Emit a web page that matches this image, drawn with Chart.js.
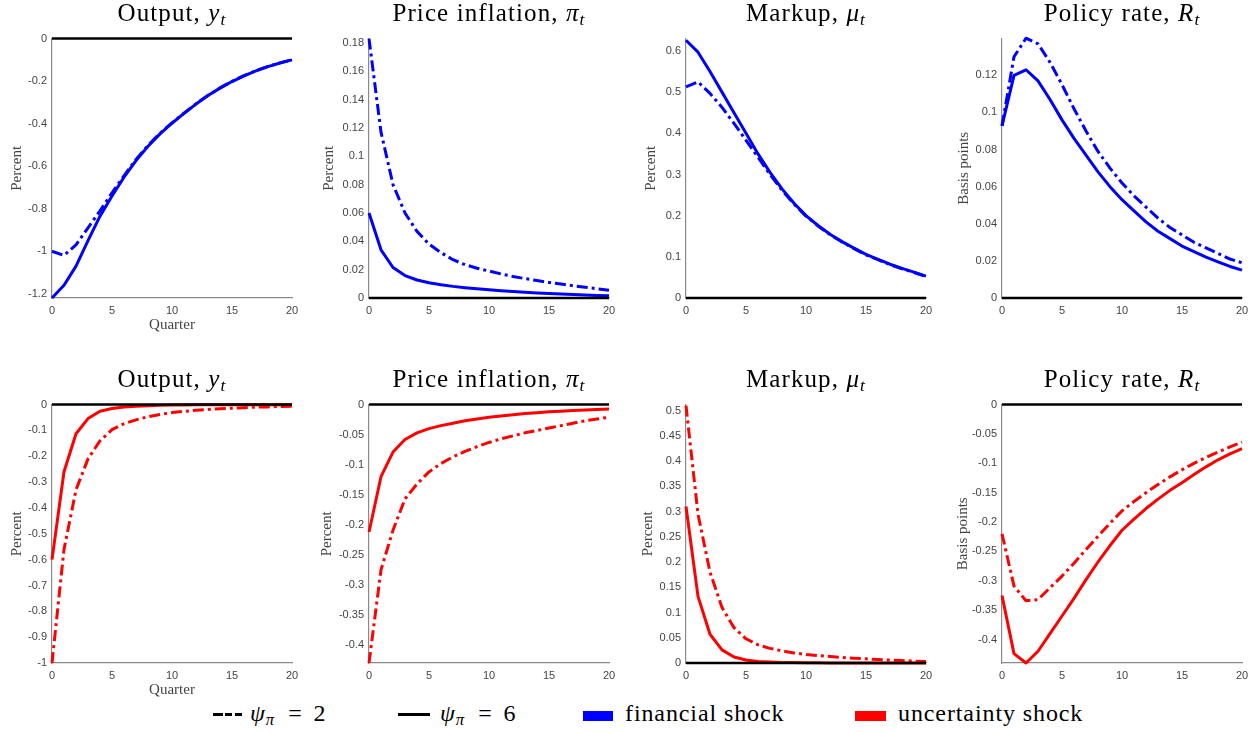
<!DOCTYPE html>
<html>
<head>
<meta charset="utf-8">
<script src="https://cdn.jsdelivr.net/npm/chart.js@4.4.0/dist/chart.umd.min.js"></script>
<style>
  html, body { margin: 0; padding: 0; background: #fff; }
  #fig { position: relative; width: 1257px; height: 733px; overflow: hidden; }
  #fig canvas { position: absolute; }
  .ttl {
    position: absolute; width: 300px; text-align: center; white-space: nowrap;
    font-family: "Liberation Serif", serif; font-size: 25px; line-height: 24px;
    letter-spacing: 1.1px; color: #000;
  }
  .ttl sub, .leg sub { font-size: 0.7em; vertical-align: -0.25em; line-height: 0; }
  .leg {
    position: absolute; top: 701px; white-space: nowrap;
    font-family: "Liberation Serif", serif; font-size: 24px; line-height: 24px;
    letter-spacing: 0.9px; color: #000;
  }
  .eq { padding: 0 11px 0 13px; }
  .sample { position: absolute; }
</style>
</head>
<body>
<div id="fig"></div>
<script>
// horizon (quarters)
const quarters = [0, 1, 2, 3, 4, 5, 6, 7, 8, 9, 10, 11, 12, 13, 14, 15, 16, 17, 18, 19, 20];
const zeroLine = [0, 0, 0, 0, 0, 0, 0, 0, 0, 0, 0, 0, 0, 0, 0, 0, 0, 0, 0, 0, 0];

// financial shock (top row): dash-dot = psi_pi 2, solid = psi_pi 6
const outputFinDash = [-1.00, -1.02, -0.97, -0.89, -0.81, -0.725, -0.645, -0.568, -0.502, -0.445, -0.396, -0.351, -0.307, -0.267, -0.232, -0.201, -0.174, -0.151, -0.131, -0.114, -0.099];
const outputFinSolid = [-1.22, -1.16, -1.07, -0.95, -0.835, -0.74, -0.652, -0.574, -0.506, -0.448, -0.398, -0.352, -0.308, -0.268, -0.233, -0.202, -0.175, -0.152, -0.132, -0.115, -0.100];
const inflFinDash = [0.183, 0.117, 0.080, 0.060, 0.047, 0.038, 0.032, 0.027, 0.0235, 0.021, 0.019, 0.017, 0.0152, 0.0137, 0.0123, 0.011, 0.0098, 0.0087, 0.0076, 0.0065, 0.0055];
const inflFinSolid = [0.060, 0.034, 0.0215, 0.0158, 0.0127, 0.0107, 0.0093, 0.0082, 0.0073, 0.0065, 0.0058, 0.0052, 0.0046, 0.0041, 0.0036, 0.0032, 0.0028, 0.0024, 0.0021, 0.0018, 0.0015];
const markupFinDash = [0.513, 0.525, 0.497, 0.463, 0.424, 0.383, 0.342, 0.300, 0.262, 0.228, 0.199, 0.175, 0.154, 0.136, 0.120, 0.105, 0.093, 0.081, 0.071, 0.062, 0.052];
const markupFinSolid = [0.626, 0.597, 0.550, 0.500, 0.450, 0.400, 0.350, 0.305, 0.265, 0.230, 0.200, 0.176, 0.155, 0.137, 0.121, 0.106, 0.094, 0.082, 0.072, 0.063, 0.053];
const rateFinDash = [0.0928, 0.130, 0.140, 0.137, 0.127, 0.115, 0.102, 0.090, 0.079, 0.070, 0.062, 0.055, 0.049, 0.043, 0.038, 0.034, 0.030, 0.027, 0.024, 0.021, 0.019];
const rateFinSolid = [0.0928, 0.120, 0.123, 0.117, 0.107, 0.096, 0.086, 0.077, 0.068, 0.060, 0.053, 0.047, 0.041, 0.036, 0.032, 0.028, 0.025, 0.022, 0.0195, 0.017, 0.015];

// uncertainty shock (bottom row)
const outputUncDash = [-1.00, -0.56, -0.33, -0.21, -0.14, -0.097, -0.074, -0.059, -0.047, -0.038, -0.031, -0.026, -0.022, -0.019, -0.016, -0.014, -0.012, -0.010, -0.009, -0.007, -0.006];
const outputUncSolid = [-0.60, -0.26, -0.113, -0.054, -0.026, -0.015, -0.009, -0.006, -0.004, -0.003, -0.002, -0.0015, -0.001, -0.001, -0.0008, -0.0006, -0.0005, -0.0004, -0.0003, -0.0002, -0.0002];
const inflUncDash = [-0.43, -0.275, -0.209, -0.157, -0.132, -0.112, -0.098, -0.087, -0.078, -0.070, -0.063, -0.057, -0.052, -0.047, -0.043, -0.039, -0.035, -0.031, -0.027, -0.024, -0.021];
const inflUncSolid = [-0.212, -0.120, -0.079, -0.058, -0.047, -0.040, -0.035, -0.031, -0.027, -0.024, -0.021, -0.019, -0.017, -0.015, -0.0135, -0.012, -0.011, -0.0098, -0.0088, -0.008, -0.0072];
const markupUncDash = [0.51, 0.295, 0.18, 0.11, 0.07, 0.048, 0.036, 0.029, 0.024, 0.020, 0.017, 0.0148, 0.0128, 0.011, 0.0095, 0.0082, 0.0070, 0.0058, 0.0048, 0.0038, 0.003];
const markupUncSolid = [0.31, 0.132, 0.057, 0.026, 0.012, 0.006, 0.003, 0.002, 0.0012, 0.0008, 0.0005, 0.0003, 0.0002, 0.0002, 0.0001, 0.0001, 0.0001, 0, 0, 0, 0];
const rateUncDash = [-0.22, -0.309, -0.334, -0.332, -0.312, -0.292, -0.270, -0.247, -0.224, -0.202, -0.181, -0.165, -0.150, -0.136, -0.123, -0.111, -0.100, -0.090, -0.081, -0.072, -0.064];
const rateUncSolid = [-0.325, -0.424, -0.44, -0.42, -0.39, -0.36, -0.33, -0.298, -0.268, -0.240, -0.214, -0.195, -0.177, -0.161, -0.146, -0.133, -0.119, -0.106, -0.094, -0.084, -0.075];

// tick labels
const xTicks = [0, 5, 10, 15, 20];
const ticksOutputFin = [-1.2, -1, -0.8, -0.6, -0.4, -0.2, 0];
const ticksInflFin = [0, 0.02, 0.04, 0.06, 0.08, 0.1, 0.12, 0.14, 0.16, 0.18];
const ticksMarkupFin = [0, 0.1, 0.2, 0.3, 0.4, 0.5, 0.6];
const ticksRateFin = [0, 0.02, 0.04, 0.06, 0.08, 0.1, 0.12];
const ticksOutputUnc = [-1, -0.9, -0.8, -0.7, -0.6, -0.5, -0.4, -0.3, -0.2, -0.1, 0];
const ticksInflUnc = [-0.4, -0.35, -0.3, -0.25, -0.2, -0.15, -0.1, -0.05, 0];
const ticksMarkupUnc = [0, 0.05, 0.1, 0.15, 0.2, 0.25, 0.3, 0.35, 0.4, 0.45, 0.5];
const ticksRateUnc = [-0.4, -0.35, -0.3, -0.25, -0.2, -0.15, -0.1, -0.05, 0];

const BLUE = "#0000ff";
const RED = "#ff0000";

const panels = [
  { title: "Output, <i>y</i><sub><i>t</i></sub>", dash: outputFinDash, solid: outputFinSolid, color: BLUE, ticks: ticksOutputFin, min: -1.22, max: 0, ylab: "Percent", xlab: "Quarter", left: 52, top: 35, h: 263, ypad: 8 },
  { title: "Price inflation, <i>π</i><sub><i>t</i></sub>", dash: inflFinDash, solid: inflFinSolid, color: BLUE, ticks: ticksInflFin, min: 0, max: 0.183, ylab: "Percent", left: 369, top: 35, h: 263, ypad: 3 },
  { title: "Markup, <i>μ</i><sub><i>t</i></sub>", dash: markupFinDash, solid: markupFinSolid, color: BLUE, ticks: ticksMarkupFin, min: 0, max: 0.63, ylab: "Percent", left: 686, top: 35, h: 263, ypad: 8 },
  { title: "Policy rate, <i>R</i><sub><i>t</i></sub>", dash: rateFinDash, solid: rateFinSolid, color: BLUE, ticks: ticksRateFin, min: 0, max: 0.1398, ylab: "Basis points", left: 1002, top: 35, h: 263, ypad: 5 },
  { title: "Output, <i>y</i><sub><i>t</i></sub>", dash: outputUncDash, solid: outputUncSolid, color: RED, ticks: ticksOutputUnc, min: -1, max: 0, ylab: "Percent", xlab: "Quarter", left: 52, top: 401, h: 262, ypad: 8 },
  { title: "Price inflation, <i>π</i><sub><i>t</i></sub>", dash: inflUncDash, solid: inflUncSolid, color: RED, ticks: ticksInflUnc, min: -0.43, max: 0, ylab: "Percent", left: 369, top: 401, h: 262, ypad: 1 },
  { title: "Markup, <i>μ</i><sub><i>t</i></sub>", dash: markupUncDash, solid: markupUncSolid, color: RED, ticks: ticksMarkupUnc, min: 0, max: 0.512, ylab: "Percent", left: 686, top: 401, h: 262, ypad: 5 },
  { title: "Policy rate, <i>R</i><sub><i>t</i></sub>", dash: rateUncDash, solid: rateUncSolid, color: RED, ticks: ticksRateUnc, min: -0.44, max: 0, ylab: "Basis points", left: 1002, top: 401, h: 262, ypad: 4 }
];

const fig = document.getElementById("fig");
const AXW = 52, AXH = 34, PADT = 8, PADR = 14, PLOTW = 240;

function pts(vals) {
  return quarters.map((q, i) => ({ x: q, y: vals[i] }));
}

function fmt(v) {
  return String(+v.toFixed(4));
}

panels.forEach((p) => {
  const cv = document.createElement("canvas");
  const w = AXW + PLOTW + PADR;
  const h = PADT + p.h + AXH;
  cv.width = w;
  cv.height = h;
  cv.style.left = (p.left - AXW) + "px";
  cv.style.top = (p.top - PADT) + "px";
  cv.style.width = w + "px";
  cv.style.height = h + "px";
  fig.appendChild(cv);

  const t = document.createElement("div");
  t.className = "ttl";
  t.innerHTML = p.title;
  t.style.left = (p.left + PLOTW / 2 - 150) + "px";
  t.style.top = (p.top - 34) + "px";
  fig.appendChild(t);

  new Chart(cv, {
    type: "line",
    data: {
      datasets: [
        { data: pts(zeroLine), borderColor: "#000", borderWidth: 2.5 },
        { data: pts(p.solid), borderColor: p.color, borderWidth: 3 },
        { data: pts(p.dash), borderColor: p.color, borderWidth: 3, borderDash: [11, 4, 3, 4] }
      ]
    },
    options: {
      responsive: false,
      animation: false,
      devicePixelRatio: 1,
      clip: false,
      layout: { padding: { top: PADT, right: PADR, left: 0, bottom: 0 } },
      elements: { point: { radius: 0 }, line: { tension: 0, borderCapStyle: "butt", borderJoinStyle: "round" } },
      plugins: { legend: { display: false }, tooltip: { enabled: false } },
      scales: {
        x: {
          type: "linear",
          min: 0,
          max: 20,
          grid: { display: false, drawTicks: false },
          border: { color: "#8a8a8a", width: 1.2 },
          afterBuildTicks: (s) => { s.ticks = xTicks.map((v) => ({ value: v })); },
          afterFit: (s) => { s.height = AXH; },
          ticks: { padding: 6, maxRotation: 0, color: "#444", font: { family: "Liberation Sans", size: 11 }, callback: fmt },
          title: {
            display: !!p.xlab,
            text: p.xlab || "",
            color: "#444",
            padding: { top: 0, bottom: -2 },
            font: { family: "Liberation Serif", size: 15 }
          }
        },
        y: {
          type: "linear",
          min: p.min,
          max: p.max,
          grid: { display: false, drawTicks: false },
          border: { color: "#8a8a8a", width: 1.2 },
          afterBuildTicks: (s) => { s.ticks = p.ticks.map((v) => ({ value: v })); },
          afterFit: (s) => { s.width = AXW; },
          ticks: { padding: 5, color: "#444", font: { family: "Liberation Sans", size: 11 }, callback: fmt },
          title: {
            display: true,
            text: p.ylab,
            color: "#444",
            padding: { top: p.ypad, bottom: 0 },
            font: { family: "Liberation Serif", size: 15 }
          }
        }
      }
    }
  });
});

// legend along the bottom
function addSample(left, width, bg, height, top) {
  const d = document.createElement("div");
  d.className = "sample";
  d.style.left = left + "px";
  d.style.top = top + "px";
  d.style.width = width + "px";
  d.style.height = height + "px";
  d.style.background = bg;
  fig.appendChild(d);
}
function addText(left, html) {
  const d = document.createElement("div");
  d.className = "leg";
  d.style.left = left + "px";
  d.innerHTML = html;
  fig.appendChild(d);
}
addSample(213, 29, "linear-gradient(to right, #000 0 10px, transparent 10px 12px, #000 12px 19px, transparent 19px 22px, #000 22px 29px)", 3, 713);
addText(250, "<i>ψ</i><sub><i>π</i></sub><span class=\"eq\">=</span>2");
addSample(398, 32, "#000", 3, 713);
addText(440, "<i>ψ</i><sub><i>π</i></sub><span class=\"eq\">=</span>6");
addSample(583, 30, BLUE, 10, 711);
addText(625, "financial shock");
addSample(855, 31, RED, 10, 711);
addText(898, "uncertainty shock");
</script>
</body>
</html>
